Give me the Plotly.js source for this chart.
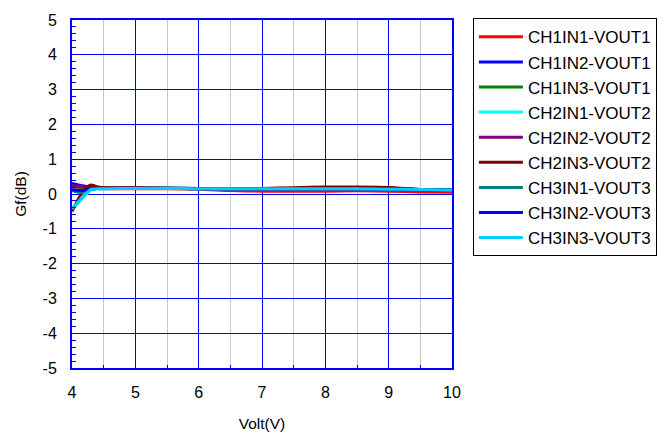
<!DOCTYPE html>
<html>
<head>
<meta charset="utf-8">
<script src="https://cdn.plot.ly/plotly-3.0.1.min.js"></script>
<style>
  html, body { margin: 0; padding: 0; background: #fff; }
  #chart { width: 672px; height: 437px; }
</style>
</head>
<body>
<div id="chart"></div>
<script>
// Supply voltage sweep (V)
const volt = [4, 4.1, 4.2, 4.3, 4.4, 4.5, 5, 5.5, 6, 6.5, 7, 7.5, 8, 8.5, 9, 9.5, 10];

// Gain flatness per input/output path (dB)
const ch1in1 = [0.10, 0.12, 0.15, 0.17, 0.16, 0.15, 0.15, 0.15, 0.14, 0.10, 0.08, 0.08, 0.08, 0.09, 0.08, 0.06, 0.05];
const ch1in2 = [0.30, 0.26, 0.22, 0.20, 0.18, 0.17, 0.17, 0.17, 0.16, 0.15, 0.15, 0.15, 0.15, 0.15, 0.14, 0.13, 0.10];
const ch1in3 = [0.20, 0.20, 0.19, 0.19, 0.18, 0.17, 0.17, 0.17, 0.16, 0.15, 0.15, 0.15, 0.15, 0.15, 0.14, 0.13, 0.11];
const ch2in1 = [-0.45, -0.25, -0.05, 0.12, 0.15, 0.15, 0.16, 0.16, 0.15, 0.15, 0.15, 0.15, 0.15, 0.15, 0.14, 0.13, 0.11];
const ch2in2 = [0.24, 0.23, 0.22, 0.20, 0.18, 0.17, 0.17, 0.16, 0.15, 0.15, 0.15, 0.15, 0.15, 0.15, 0.14, 0.13, 0.11];
const ch2in3 = [-0.50, -0.15, 0.15, 0.26, 0.21, 0.18, 0.17, 0.16, 0.16, 0.16, 0.16, 0.18, 0.20, 0.20, 0.19, 0.13, 0.10];
const ch3in1 = [0.10, 0.05, 0.06, 0.14, 0.16, 0.16, 0.16, 0.16, 0.15, 0.15, 0.15, 0.15, 0.15, 0.15, 0.14, 0.13, 0.11];
const ch3in2 = [0.12, 0.10, 0.10, 0.15, 0.16, 0.16, 0.16, 0.16, 0.15, 0.15, 0.15, 0.15, 0.15, 0.15, 0.14, 0.13, 0.11];
const ch3in3 = [-0.42, -0.22, -0.02, 0.13, 0.15, 0.15, 0.16, 0.16, 0.15, 0.15, 0.15, 0.15, 0.15, 0.15, 0.14, 0.13, 0.11];

const names = ["CH1IN1-VOUT1", "CH1IN2-VOUT1", "CH1IN3-VOUT1",
               "CH2IN1-VOUT2", "CH2IN2-VOUT2", "CH2IN3-VOUT2",
               "CH3IN1-VOUT3", "CH3IN2-VOUT3", "CH3IN3-VOUT3"];
const series = [ch1in1, ch1in2, ch1in3, ch2in1, ch2in2, ch2in3, ch3in1, ch3in2, ch3in3];
const colors = ["#ff0000", "#0000ff", "#008000", "#00ffff", "#800080",
                "#800000", "#008080", "#0000ff", "#00ccff"];

// Axis ticks, labelled with a plain hyphen for negatives
const xTickVals = [4, 5, 6, 7, 8, 9, 10];
const xTickText = ["4", "5", "6", "7", "8", "9", "10"];
const yTickVals = [-5, -4, -3, -2, -1, 0, 1, 2, 3, 4, 5];
const yTickText = ["-5", "-4", "-3", "-2", "-1", "0", "1", "2", "3", "4", "5"];

const traces = series.map((ys, i) => ({
  x: volt,
  y: ys,
  name: names[i],
  legendgroup: "g" + i,
  type: "scatter",
  mode: "lines",
  line: { color: colors[i], width: 3, shape: "spline", smoothing: 0.6 }
}));

const font = { family: "Liberation Sans, Arial, sans-serif", color: "#000" };

const layout = {
  width: 672,
  height: 437,
  margin: { l: 72, r: 220, t: 20, b: 69 },
  paper_bgcolor: "#fff",
  plot_bgcolor: "#fff",
  font: Object.assign({ size: 15 }, font),
  showlegend: true,
  legend: {
    x: 1.055, y: 1.005, xanchor: "left", yanchor: "top",
    bordercolor: "#000", borderwidth: 1, bgcolor: "#fff",
    font: Object.assign({ size: 17 }, font),
    tracegroupgap: 0,
    traceorder: "grouped",
    itemwidth: 44,
    maxheight: 400
  },
  xaxis: {
    range: [4, 10],
    tickmode: "array",
    tickvals: xTickVals,
    ticktext: xTickText,
    showgrid: true,
    gridcolor: "#0000ff",
    gridwidth: 1,
    zeroline: false,
    showline: true,
    linecolor: "#0000ff",
    linewidth: 2,
    mirror: true,
    ticks: "inside",
    ticklen: 4,
    tickcolor: "#0000ff",
    ticklabelstandoff: 9,
    tickfont: Object.assign({ size: 16 }, font),
    minor: { dtick: 0.5, tick0: 4, showgrid: true, gridcolor: "#c8c8c8", gridwidth: 1, ticks: "inside", ticklen: 3, tickcolor: "#0000ff" },
    title: { text: "Volt(V)", font: Object.assign({ size: 15.5 }, font), standoff: 18 }
  },
  yaxis: {
    range: [-5, 5],
    tickmode: "array",
    tickvals: yTickVals,
    ticktext: yTickText,
    showgrid: true,
    gridcolor: "#0000ff",
    gridwidth: 1,
    zeroline: false,
    showline: true,
    linecolor: "#0000ff",
    linewidth: 2,
    mirror: true,
    ticks: "inside",
    ticklen: 5,
    tickcolor: "#0000ff",
    ticklabelstandoff: 10,
    tickfont: Object.assign({ size: 16 }, font),
    minor: { dtick: 0.2, tick0: 0, showgrid: false, ticks: "inside", ticklen: 4, tickcolor: "#0000ff" },
    title: { text: "Gf(dB)", font: Object.assign({ size: 15.5 }, font), standoff: 12 }
  }
};

Plotly.newPlot("chart", traces, layout, { displayModeBar: false, staticPlot: true });
</script>
</body>
</html>
